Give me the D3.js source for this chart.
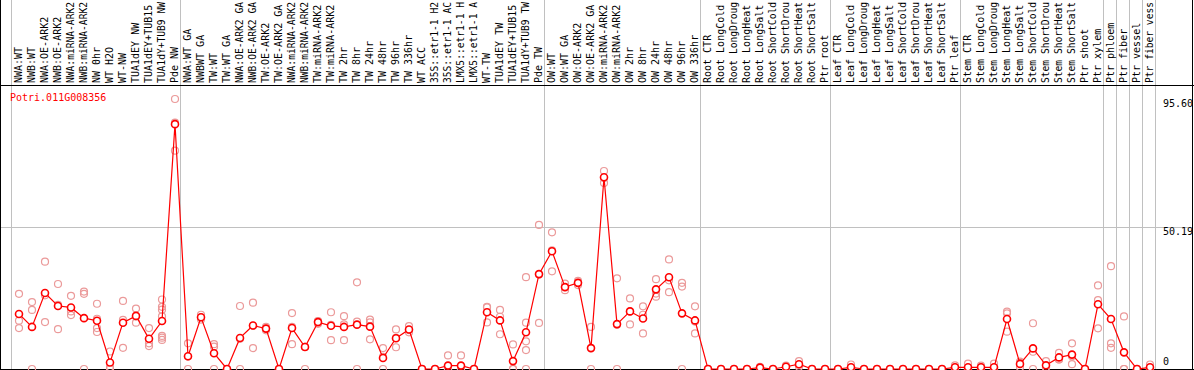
<!DOCTYPE html>
<html>
<head>
<meta charset="utf-8">
<script src="https://cdn.jsdelivr.net/npm/d3@7"></script>
<style>
  html, body { margin: 0; padding: 0; background: #fff; }
  svg { display: block; }
  text { font-family: 'DejaVu Sans Mono', monospace; font-size: 10px; }
</style>
</head>
<body>
<div id="chart"></div>
<script>
// ── Data ─────────────────────────────────────────────────────────────────────
const geneId = 'Potri.011G008356';

const categories = [
  'NWA:WT', 'NWB:WT', 'NWA:OE-ARK2', 'NWB:OE-ARK2', 'NWA:miRNA-ARK2', 'NWB:miRNA-ARK2',
  'NW 0hr', 'WT H2O', 'WT-NW', 'TUA1dEY NW', 'TUA1dEY+TUB15', 'TUA1dY+TUB9 NW', 'Pde NW',
  'NWA:WT GA', 'NWBWT GA', 'TW:WT', 'TW:WT GA', 'NWA:OE-ARK2 GA', 'NWB:OE-ARK2 GA',
  'TW:OE-ARK2', 'TW:OE-ARK2 GA', 'NWA:miRNA-ARK2 ', 'NWB:miRNA-ARK2 ', 'TW:miRNA-ARK2',
  'TW:miRNA-ARK2 ', 'TW 2hr', 'TW 8hr', 'TW 24hr', 'TW 48hr', 'TW 96hr', 'TW 336hr', 'WT ACC',
  '35S::etr1-1 H2O', '35S::etr1-1 ACC', 'LMX5::etr1-1 H2O', 'LMX5::etr1-1 ACC', 'WT-TW',
  'TUA1dEY TW', 'TUA1dEY+TUB15 ', 'TUA1dY+TUB9 TW', 'Pde TW',
  'OW:WT', 'OW:WT GA', 'OW:OE-ARK2', 'OW:OE-ARK2 GA', 'OW:miRNA-ARK2', 'OW:miRNA-ARK2 ',
  'OW 2hr', 'OW 8hr', 'OW 24hr', 'OW 48hr', 'OW 96hr', 'OW 336hr',
  'Root CTR', 'Root LongCold', 'Root LongDrought', 'Root LongHeat', 'Root LongSalt',
  'Root ShortCold', 'Root ShortDrought', 'Root ShortHeat', 'Root ShortSalt', 'Ptr root',
  'Leaf CTR', 'Leaf LongCold', 'Leaf LongDrought', 'Leaf LongHeat', 'Leaf LongSalt',
  'Leaf ShortCold', 'Leaf ShortDrought', 'Leaf ShortHeat', 'Leaf ShortSalt', 'Ptr leaf',
  'Stem CTR', 'Stem LongCold', 'Stem LongDrought', 'Stem LongHeat', 'Stem LongSalt',
  'Stem ShortCold', 'Stem ShortDrought', 'Stem ShortHeat', 'Stem ShortSalt', 'Ptr shoot',
  'Ptr xylem', 'Ptr phloem', 'Ptr fiber', 'Ptr vessel', 'Ptr fiber vessel'
];

const means = [
  19.5, 14.9, 26.9, 22.3, 21.8, 18.0, 17.1, 2.3, 16.4, 18.8, 10.7, 17.0, 86.7,
  4.5, 18.3, 5.6, 0, 11.0, 15.4, 14.3, 0, 14.5, 7.8, 16.6, 15.3, 14.9, 15.7, 15.0,
  3.9, 10.9, 14.0, 0, 0, 1.2, 1.2, 0, 20.1, 17.2, 2.8, 13.0, 33.6,
  41.7, 29.0, 30.5, 7.4, 67.9, 15.9, 20.4, 17.9, 28.2, 32.5, 19.7, 17.2,
  0, 0, 0, 0, 0.5, 0, 0.8, 1.7, 0, 0,
  0, 0.6, 0, 0, 0, 0, 0, 0, 0, 0.6,
  0.6, 0.6, 0.6, 17.7, 1.8, 7.3, 1.3, 4.1, 5.1, 0,
  22.9, 17.7, 5.9, 0, 0.6
];

const replicates = [
  [26.6, 17.1, 14.5], [23.7, 20.9, 0], [38.0, 16.6, 26.1], [30.1, 14.1, 22.7],
  [25.9, 19.1, 20.4], [27.4, 0, 26.6], [23.1, 17.8, 14.5, 13.1], [6.2, 0.7, 0],
  [24.1, 17.4, 7.5], [21.4, 16.4, 18.6], [14.5, 9.1, 8.1],
  [24.6, 22.0, 21.0, 18.6, 11.7, 11.1, 10.3], [95.6, 77.3, 87.2],
  [9.1, 0, 4.4], [19.2, 18.3, 17.5], [8.8, 7.9, 0], [0, 0, 0], [22.3, 0, 10.7],
  [23.5, 7.4, 15.3], [14.9, 14.3, 13.7], [0, 0, 0], [19.8, 8.8, 14.9], [7.8, 7.8, 0],
  [16.9, 16.0, 17.0], [20.1, 10.2, 15.6], [18.7, 10.2, 15.8], [30.7, 16.8, 0],
  [17.5, 16.5, 10.5], [7.4, 0, 4.3], [14.0, 7.7, 11.0], [15.2, 13.0, 13.8], [0, 0, 0],
  [0, 0, 0], [4.8, 0, 0], [4.8, 0, 0], [0, 0, 0], [21.8, 16.5, 22.0], [20.9, 18.5, 12.3],
  [8.7, 0, 0], [32.5, 16.4, 9.8, 6.7, 0], [51.0, 16.3, 33.5],
  [48.4, 34.6, 42.0], [30.2, 27.9, 29.0], [31.2, 29.7, 30.6], [14.9, 0, 7.4],
  [70.1, 65.9, 67.6], [32.1, 0, 15.7], [25.0, 15.8, 20.4], [22.2, 19.2, 12.6],
  [31.8, 26.7, 25.6], [38.8, 31.4, 27.2], [30.5, 29.2, 0], [22.2, 12.6, 16.8],
  [0, 0, 0], [0, 0, 0], [0, 0, 0], [0, 0, 0], [0.8, 0.5, 0.2], [0, 0, 0],
  [1.2, 0.8, 0.4], [2.8, 1.5, 0.8], [0, 0, 0], [0, 0, 0],
  [0, 0, 0], [1.6, 0.2, 0], [0, 0, 0], [0, 0, 0], [0, 0, 0], [0, 0, 0],
  [0, 0, 0], [0, 0, 0], [0, 0, 0], [1.3, 0.5, 0],
  [1.9, 0, 0], [1.2, 0.6, 0], [1.9, 0, 0], [19.7, 13.2, 20.3], [2.6, 0.6, 2.2],
  [16.2, 6.1, 0], [2.8, 0.6, 0.5], [5.7, 3.4, 3.4], [9.1, 1.7, 4.5], [0, 0, 0],
  [29.6, 24.4, 14.4], [36.4, 9.1, 7.5], [18.6, 0, 0], [0, 0, 0], [1.6, 0, 0]
];

// separators are drawn just before these categories
const groupStarts = [
  'NWA:WT', 'NWA:WT GA', 'OW:WT', 'Root CTR', 'Leaf CTR', 'Stem CTR',
  'Ptr phloem', 'Ptr fiber', 'Ptr vessel', 'Ptr fiber vessel'
];

const yTicks = [0, 50.19, 95.60];
const yMax = 95.60;

// ── Layout ───────────────────────────────────────────────────────────────────
const W = 1194;
const H = 370;
const HEADER_H = 85;
const PLOT_BOTTOM = 369;
const STEP = 13;
const MAX_CHARS = 14;   // header only has room for ~14 glyphs

const svg = d3.select('#chart')
  .append('svg')
  .attr('width', W)
  .attr('height', H);

const x = d3.scalePoint()
  .domain(categories)
  .range([19, 19 + STEP * (categories.length - 1)]);

const y = d3.scaleLinear()
  .domain([0, yMax])
  .range([PLOT_BOTTOM, 99]);

const sepX = c => x(c) - 8;
const plotRight = x(categories[categories.length - 1]) + STEP - 8;

// ── Grid ─────────────────────────────────────────────────────────────────────
svg.selectAll('line.sep')
  .data(groupStarts.map(sepX).concat([plotRight]))
  .enter().append('line')
  .attr('class', 'sep')
  .attr('x1', d => d + 0.5).attr('x2', d => d + 0.5)
  .attr('y1', 0).attr('y2', PLOT_BOTTOM)
  .attr('stroke', '#c0c0c0');

svg.selectAll('line.hgrid')
  .data(yTicks.filter(v => v > 0 && v < yMax))
  .enter().append('line')
  .attr('class', 'hgrid')
  .attr('x1', 1).attr('x2', W - 1)
  .attr('y1', d => Math.round(y(d)) + 0.5)
  .attr('y2', d => Math.round(y(d)) + 0.5)
  .attr('stroke', '#c0c0c0');

// ── Frame ────────────────────────────────────────────────────────────────────
svg.append('line')
  .attr('x1', 0).attr('x2', W)
  .attr('y1', HEADER_H + 0.5).attr('y2', HEADER_H + 0.5)
  .attr('stroke', '#000');
svg.append('line')
  .attr('x1', 0).attr('x2', W)
  .attr('y1', PLOT_BOTTOM + 0.5).attr('y2', PLOT_BOTTOM + 0.5)
  .attr('stroke', '#000');
svg.append('line')
  .attr('x1', 0.5).attr('x2', 0.5)
  .attr('y1', 0).attr('y2', H)
  .attr('stroke', '#000');
svg.append('line')
  .attr('x1', W - 1.5).attr('x2', W - 1.5)
  .attr('y1', 0).attr('y2', H)
  .attr('stroke', '#000');

// ── Category labels (vertical, in the header) ───────────────────────────────
const shortLabel = d => d.trim().slice(0, MAX_CHARS);

svg.selectAll('text.cat')
  .data(categories)
  .enter().append('text')
  .attr('class', 'cat')
  .attr('transform', d => `translate(${x(d) + 2.5},${HEADER_H - 2}) rotate(-90)`)
  .attr('fill', '#000')
  .each(function (d) {
    // squeeze full-width labels a hair so they stay inside the header
    if (shortLabel(d).length >= MAX_CHARS) {
      d3.select(this).attr('textLength', HEADER_H - 4).attr('lengthAdjust', 'spacingAndGlyphs');
    }
  })
  .text(shortLabel);

// ── Y labels (right side) ────────────────────────────────────────────────────
svg.selectAll('text.ytick')
  .data(yTicks)
  .enter().append('text')
  .attr('class', 'ytick')
  .attr('x', plotRight + 8)
  .attr('y', d => d === 0 ? y(d) - 4 : y(d) + 8)
  .attr('fill', '#000')
  .text(d => d === 0 ? '0' : d.toFixed(2));

// gene id
svg.append('text')
  .attr('x', 10)
  .attr('y', 101)
  .attr('fill', '#ff0000')
  .text(geneId);

// ── Replicates ───────────────────────────────────────────────────────────────
const repPoints = [];
categories.forEach((c, i) => {
  replicates[i].forEach(v => repPoints.push({ c, v }));
});

svg.selectAll('circle.rep')
  .data(repPoints)
  .enter().append('circle')
  .attr('class', 'rep')
  .attr('cx', d => x(d.c))
  .attr('cy', d => y(d.v))
  .attr('r', 3.5)
  .attr('fill', 'none')
  .attr('stroke', '#eb9a9a')
  .attr('stroke-width', 1.2);

// ── Mean line + points ──────────────────────────────────────────────────────
const meanData = categories.map((c, i) => ({ c, v: means[i] }));

svg.append('path')
  .datum(meanData)
  .attr('fill', 'none')
  .attr('stroke', '#ff0000')
  .attr('stroke-width', 1.2)
  .attr('d', d3.line().x(d => x(d.c)).y(d => y(d.v)));

svg.selectAll('circle.mean')
  .data(meanData)
  .enter().append('circle')
  .attr('class', 'mean')
  .attr('cx', d => x(d.c))
  .attr('cy', d => y(d.v))
  .attr('r', 3.5)
  .attr('fill', '#fff')
  .attr('stroke', '#ff0000')
  .attr('stroke-width', 1.6);
</script>
</body>
</html>
